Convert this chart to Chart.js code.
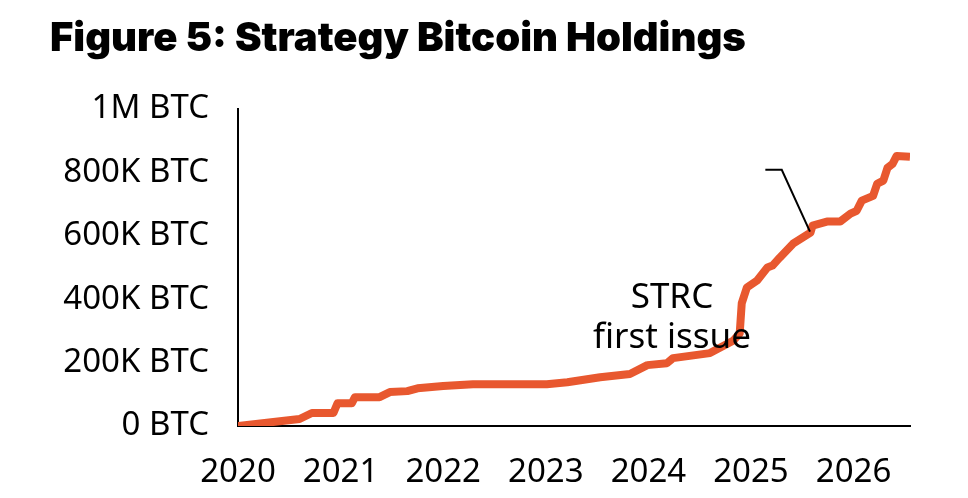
<!DOCTYPE html>
<html>
<head>
<meta charset="utf-8">
<script src="https://cdn.jsdelivr.net/npm/chart.js@4.4.1/dist/chart.umd.min.js"></script>
<style>
    html, body { margin: 0; padding: 0; background: #fff; }
    #wrap { width: 968px; height: 498px; }
</style>
</head>
<body>
<div id="wrap"><canvas id="holdingsChart"></canvas></div>
<script>
// Strategy bitcoin holdings
const years = [
    2020.00, 2020.60, 2020.72, 2020.93, 2020.97, 2021.11, 2021.14, 2021.38,
    2021.48, 2021.65, 2021.75, 2022.00, 2022.29, 2023.01, 2023.21, 2023.53,
    2023.82, 2023.99, 2024.18, 2024.24, 2024.60, 2024.83, 2024.89, 2024.91,
    2024.96, 2025.06, 2025.16, 2025.21, 2025.28, 2025.41, 2025.58, 2025.60,
    2025.74, 2025.87, 2025.97, 2026.03, 2026.08, 2026.19, 2026.23, 2026.29,
    2026.33, 2026.38, 2026.42, 2026.55
];
const holdings = [
    0, 22000, 41000, 41000, 72000, 72000, 91000, 91000,
    107000, 110000, 119000, 126000, 132000, 132000, 138000, 154000,
    164000, 192000, 198000, 214000, 230000, 270000, 292000, 387000,
    437000, 459000, 500000, 506000, 531000, 575000, 610000, 632000,
    645000, 645000, 670000, 679000, 711000, 726000, 764000, 774000,
    814000, 827000, 852000, 849000
];
const yearTicks = [2020, 2021, 2022, 2023, 2024, 2025, 2026];
const btcTicks = [0, 200000, 400000, 600000, 800000, 1000000];
const btcTickLabels = ['0 BTC', '200K BTC', '400K BTC', '600K BTC', '800K BTC', '1M BTC'];

// callout for the STRC note, in data units
const noteLines = ['STRC', 'first issue'];
const noteAt = { x: 2024.23, y: [405000, 277000] };
const calloutPath = [
    { x: 2025.14, y: 808000 },
    { x: 2025.30, y: 808000 },
    { x: 2025.575, y: 613000 }
];

const FONT = '"Noto Sans", "Open Sans", sans-serif';

const notePlugin = {
    id: 'strcNote',
    afterDatasetsDraw(chart) {
        const { ctx, scales: { x, y } } = chart;
        ctx.save();
        ctx.fillStyle = '#000';
        ctx.font = '35px ' + FONT;
        ctx.textAlign = 'center';
        ctx.textBaseline = 'middle';
        noteLines.forEach((line, i) => {
            ctx.fillText(line, x.getPixelForValue(noteAt.x), y.getPixelForValue(noteAt.y[i]));
        });

        ctx.strokeStyle = '#000';
        ctx.lineWidth = 2;
        ctx.beginPath();
        calloutPath.forEach((p, i) => {
            const px = x.getPixelForValue(p.x);
            const py = y.getPixelForValue(p.y);
            if (i === 0) ctx.moveTo(px, py); else ctx.lineTo(px, py);
        });
        ctx.stroke();
        ctx.restore();
    }
};

const ctx = document.getElementById('holdingsChart').getContext('2d');
new Chart(ctx, {
    type: 'line',
    data: {
        datasets: [{
            data: years.map((yr, i) => ({ x: yr, y: holdings[i] })),
            borderColor: '#E8582F',
            borderWidth: 8,
            borderJoinStyle: 'round',
            pointRadius: 0,
            tension: 0,
            fill: false
        }]
    },
    options: {
        responsive: true,
        maintainAspectRatio: false,
        animation: false,
        layout: { padding: { left: 50, right: 58, top: 0, bottom: 0 } },
        plugins: {
            legend: { display: false },
            tooltip: { enabled: false },
            title: {
                display: true,
                text: 'Figure 5: Strategy Bitcoin Holdings',
                align: 'start',
                color: '#000',
                font: { family: 'Inter, Roboto, sans-serif', size: 40, weight: 900 },
                padding: { top: 15, bottom: 46 }
            }
        },
        scales: {
            x: {
                type: 'linear',
                min: 2020,
                max: 2026.55,
                afterBuildTicks(scale) {
                    scale.ticks = yearTicks.map(v => ({ value: v }));
                },
                afterFit(scale) { scale.height = 72; },
                ticks: {
                    color: '#000',
                    padding: 19,
                    maxRotation: 0,
                    font: { family: FONT, size: 33 },
                    callback: v => String(v)
                },
                grid: { display: false },
                border: { display: true, color: '#000', width: 2 }
            },
            y: {
                min: 0,
                max: 1000000,
                afterBuildTicks(scale) {
                    scale.ticks = btcTicks.map(v => ({ value: v }));
                },
                afterFit(scale) { scale.width = 188; },
                ticks: {
                    color: '#000',
                    padding: 21,
                    font: { family: FONT, size: 33 },
                    callback: v => btcTickLabels[btcTicks.indexOf(v)]
                },
                grid: { display: false },
                border: { display: true, color: '#000', width: 2 }
            }
        }
    },
    plugins: [notePlugin]
});
</script>
</body>
</html>
